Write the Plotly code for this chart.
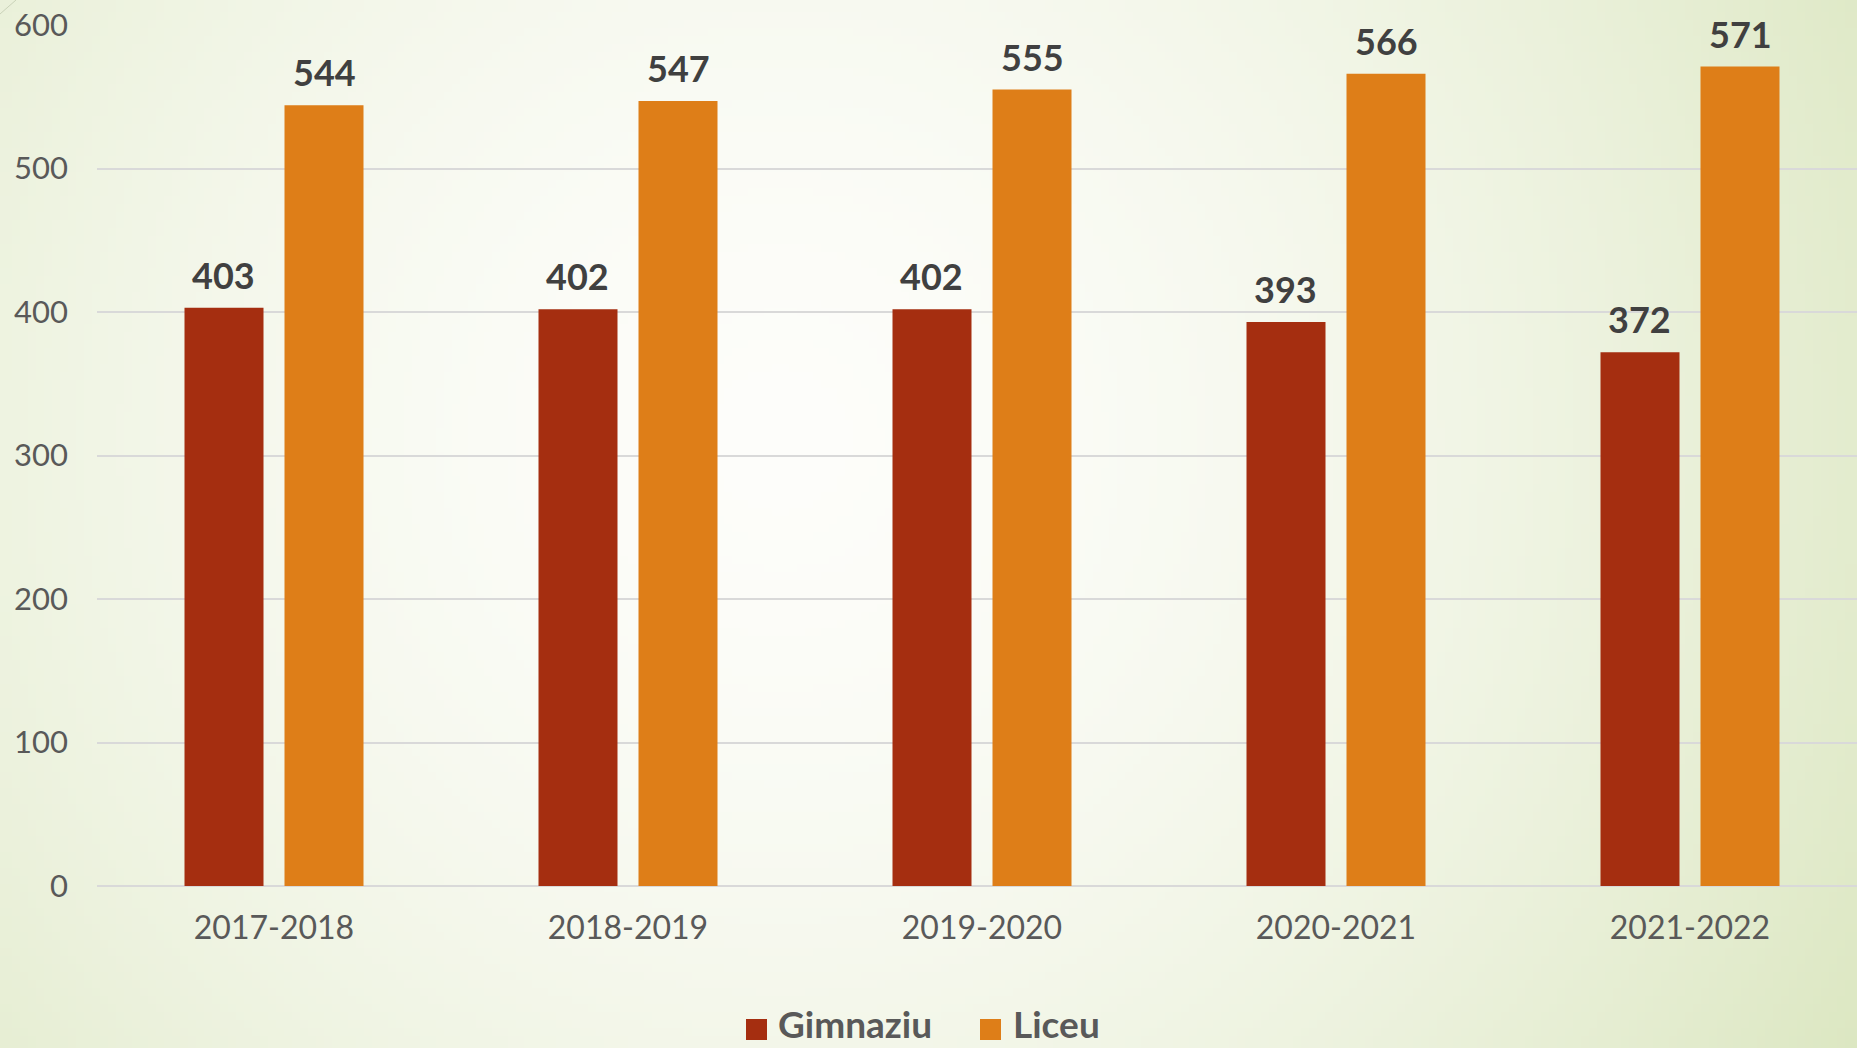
import base64, struct, zlib
import plotly.graph_objects as go

# ---- data ----
categories = ["2017-2018", "2018-2019", "2019-2020", "2020-2021", "2021-2022"]
gimnaziu = [403, 402, 402, 393, 372]
liceu = [544, 547, 555, 566, 571]
series_names = ["Gimnaziu", "Liceu"]
y_ticks = [0, 100, 200, 300, 400, 500, 600]

COL_G = "#A52E10"
COL_L = "#DE7E18"
LABEL_COL = "#404040"
TICK_COL = "#595959"

W, H = 1857, 1048
ML, MR, MT, MB = 97, 0, 25, 162
PW, PH = W - ML - MR, H - MT - MB
SLOT = 354.0  # px per category


# ---- background radial gradient as an embedded PNG ----
def make_bg(w=232, h=131):
    cx, cy = 780 / W * w, 440 / H * h
    sx, sy = W / w, H / h
    dmax = ((1077) ** 2 + (608) ** 2) ** 0.5
    c0 = (253, 253, 250)
    c1 = (220, 231, 194)
    rows = []
    for j in range(h):
        row = bytearray([0])
        for i in range(w):
            dx = (i + 0.5 - cx) * sx
            dy = (j + 0.5 - cy) * sy
            t = min(1.0, (dx * dx + dy * dy) ** 0.5 / dmax)
            t = t ** 1.7
            for k in range(3):
                row.append(int(round(c0[k] + (c1[k] - c0[k]) * t)))
        rows.append(bytes(row))
    raw = b"".join(rows)

    def chunk(tag, data):
        c = struct.pack(">I", len(data)) + tag + data
        return c + struct.pack(">I", zlib.crc32(tag + data) & 0xFFFFFFFF)

    png = b"\x89PNG\r\n\x1a\n"
    png += chunk(b"IHDR", struct.pack(">IIBBBBB", w, h, 8, 2, 0, 0, 0))
    png += chunk(b"IDAT", zlib.compress(raw, 9))
    png += chunk(b"IEND", b"")
    return "data:image/png;base64," + base64.b64encode(png).decode()


fig = go.Figure()
fig.add_trace(go.Bar(x=categories, y=gimnaziu, name=series_names[0],
                     marker=dict(color=COL_G, line=dict(width=0)), showlegend=False))
fig.add_trace(go.Bar(x=categories, y=liceu, name=series_names[1],
                     marker=dict(color=COL_L, line=dict(width=0)), showlegend=False))

# value labels
off = SLOT * 0.2825 / 2
for vals, sh in ((gimnaziu, -off), (liceu, off)):
    for c, v in zip(categories, vals):
        fig.add_annotation(x=c, y=v, text=str(v), showarrow=False, xshift=sh, yshift=9,
                           yanchor="bottom", xanchor="center",
                           font=dict(family="Lato", size=36, color=LABEL_COL, weight="bold"))

def px_x(p):
    return (p - ML) / PW

def px_y(p):
    return (H - MB - p) / PH

# manual legend
legend_items = [(series_names[0], COL_G, 746, 777), (series_names[1], COL_L, 980, 1012)]
for name, col, sq_x, tx in legend_items:
    fig.add_shape(type="rect", xref="paper", yref="paper",
                  x0=px_x(sq_x), x1=px_x(sq_x + 21), y0=px_y(1040), y1=px_y(1019),
                  fillcolor=col, line=dict(width=0))
    fig.add_annotation(xref="paper", yref="paper", x=px_x(tx), y=px_y(1047),
                       xanchor="left", yanchor="bottom", showarrow=False, text=name,
                       borderpad=0,
                       font=dict(family="Lato", size=37, color=TICK_COL, weight="bold"))

# slide decoration line at top-left corner
fig.add_shape(type="line", xref="paper", yref="paper",
              x0=px_x(0), y0=px_y(14), x1=px_x(16), y1=px_y(0),
              line=dict(color="#c9d2b8", width=1))

fig.update_layout(
    width=W, height=H,
    margin=dict(l=ML, r=MR, t=MT, b=MB),
    paper_bgcolor="#f6f8ee",
    plot_bgcolor="rgba(0,0,0,0)",
    barmode="group", bargap=0.435, bargroupgap=0.21,
    showlegend=False,
    images=[dict(source=make_bg(), xref="paper", yref="paper",
                 x=px_x(0), y=px_y(0), sizex=W / PW, sizey=H / PH,
                 xanchor="left", yanchor="top", sizing="stretch", layer="below")],
    xaxis=dict(range=[-0.5, -0.5 + PW / SLOT], showgrid=False, showline=False,
               ticks="", ticklabelstandoff=20,
               tickfont=dict(family="Lato", size=32, color=TICK_COL)),
    yaxis=dict(range=[0, 600], tickvals=y_ticks, showgrid=True, gridcolor="#d9d9d9",
               gridwidth=2, zeroline=True, zerolinecolor="#d9d9d9", zerolinewidth=2,
               showline=False, ticks="", ticklabelstandoff=28,
               tickfont=dict(family="Lato", size=31, color=TICK_COL)),
)

fig.write_html("out.html", config={"displayModeBar": False},
               post_script="document.body.style.margin='0';document.body.style.overflow='hidden';")
